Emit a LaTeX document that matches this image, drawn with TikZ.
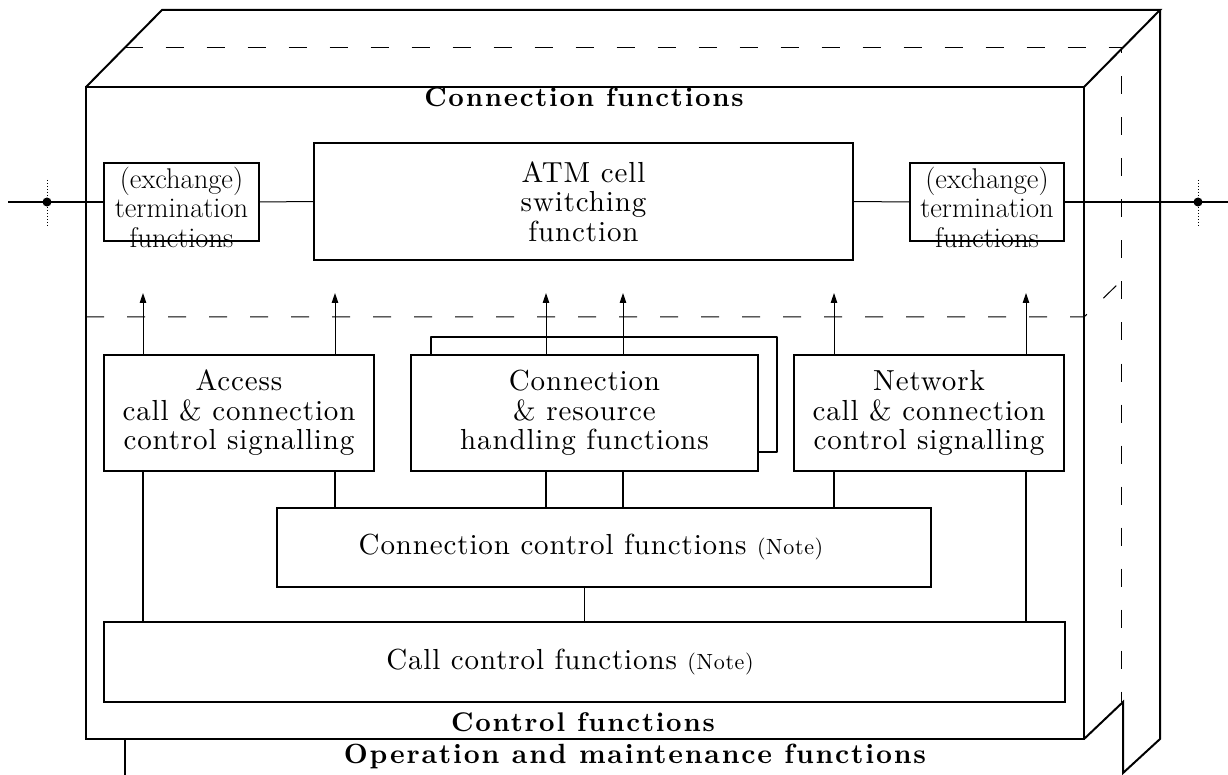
\documentclass[tikz,border=0pt]{standalone}
\usepackage{fontspec}
\usetikzlibrary{arrows.meta}
\newfontfamily\dgspaced{lmroman10-regular}[Extension=.otf, LetterSpace=3]
\newfontfamily\dgheadfam{lmroman10-bold}[Extension=.otf, LetterSpace=6.5]
\newcommand\dgbody{\dgspaced\fontsize{29}{29.5}\selectfont}
\newcommand\dgterm{\fontsize{28.5}{29.5}\selectfont}
\newcommand\dgnote{\fontsize{22}{24}\selectfont}
\newcommand\dghead{\dgheadfam\fontsize{27}{30}\selectfont}
\tikzset{
  frame/.style={line width=2pt, line join=miter},
  hidden/.style={line width=1pt, dash pattern=on 18pt off 23pt},
  box/.style={draw, line width=1.1pt, inner sep=0pt, align=center, font=\dgbody},
  txt/.style={inner sep=0pt, align=center, font=\dgbody},
  termtxt/.style={inner sep=0pt, align=center, font=\dgterm},
  head/.style={inner sep=0pt, anchor=base, font=\dghead},
  sig/.style={line width=1pt, -{Triangle[length=10pt,width=6.5pt]}},
  link/.style={line width=1.8pt},
  wire/.style={line width=1pt},
  ext/.style={line width=2pt},
  dot/.style={circle, fill, inner sep=0pt, minimum size=9pt},
  tap/.style={line width=1pt, dotted},
}
\begin{document}
\begin{tikzpicture}[x=1pt, y=-1pt]
\useasboundingbox (0,0) rectangle (1228,775);

% outer slab: front face, top face, right face
\draw[frame] (86,87) rectangle (1084,739);
\draw[frame] (86,87) -- (162,10) -- (1160,10) -- (1084,87);
\draw[frame] (1160,10) -- (1160,739) -- (1123,773) -- (1123,702) -- (1084,739);
\draw[frame] (125,740) -- (125,775);

% hidden edges between the layers
\draw[hidden] (124.5,48) -- (1121,48) -- (1121,702);
\draw[hidden] (86,317) -- (1084,317) -- (1121,281);

% layer titles
\node[head] (hconn) at (584,107) {Connection functions};
\node[head] (hctrl) at (583,731) {Control functions};
\node[head, font=\dgheadfam\fontsize{27.8}{30}\selectfont] (hom) at (635,763)
  {Operation and maintenance functions};

% connection functions
\node[box, minimum width=539pt, minimum height=117pt] (atm) at (583.5,201.5)
  {ATM cell\\switching\\function};
\node[draw, line width=1.1pt, inner sep=0pt, minimum width=155pt, minimum height=78pt] (termL) at (181.5,202) {};
\node[draw, line width=1.1pt, inner sep=0pt, minimum width=154pt, minimum height=78pt] (termR) at (987,202) {};
\node[termtxt] (termLt) at (181.5,207) {(exchange)\\termination\\functions};
\node[termtxt] (termRt) at (987,207) {(exchange)\\termination\\functions};

\draw[wire] (termL.east) -- (atm.west);
\draw[wire] (atm.east) -- (termR.west);

% external access points
\coordinate (extL) at (8,202);
\coordinate (extR) at (1228,202);
\node[dot] (dL) at (47,202) {};
\node[dot] (dR) at (1198,202) {};
\coordinate (dLt) at (47,180); \coordinate (dLb) at (47,226);
\coordinate (dRt) at (1198,180); \coordinate (dRb) at (1198,226);
\draw[tap] (dLt) -- (dLb);
\draw[tap] (dRt) -- (dRb);
\draw[ext] (extL) -- (termL.west);
\draw[ext] (termR.east) -- (extR);

% control functions
\node[box, minimum width=270pt, minimum height=116pt] (acc) at (239,413)
  {Access\\call \& connection\\control signalling};
\node[box, minimum width=347pt, minimum height=116pt] (cr) at (584.5,413)
  {Connection\\\& resource\\handling functions};
\node[box, minimum width=270pt, minimum height=116pt] (net) at (929,413)
  {Network\\call \& connection\\control signalling};
\node[box, minimum width=654pt, minimum height=79pt] (ccf) at (604,547.5) {};
\node[txt] (ccft) at (591,547) {Connection control functions {\dgnote(Note)}};
\node[box, minimum width=961pt, minimum height=80pt] (call) at (584.5,662) {};
\node[txt] (callt) at (570,662) {Call control functions {\dgnote(Note)}};

% loop-back of the resource handling block
\coordinate (bkA) at (431,337);
\coordinate (bkB) at (777,452);
\draw[link, line join=round] (bkA |- cr.north) -- (bkA) -| (bkB) -- (bkB -| cr.east);

% signalling paths up to the connection functions
\coordinate (a1) at (143,293);
\coordinate (a2) at (335,293);
\coordinate (a3) at (546,293);
\coordinate (a4) at (623,293);
\coordinate (a5) at (834,293);
\coordinate (a6) at (1026,293);
\draw[sig] (a1 |- acc.north) -- (a1);
\draw[sig] (a2 |- acc.north) -- (a2);
\draw[sig] (a3 |- cr.north) -- (a3);
\draw[sig] (a4 |- cr.north) -- (a4);
\draw[sig] (a5 |- net.north) -- (a5);
\draw[sig] (a6 |- net.north) -- (a6);

% links between the control blocks
\draw[link] (a1 |- acc.south) -- (a1 |- call.north);
\draw[link] (a2 |- acc.south) -- (a2 |- ccf.north);
\draw[link] (a3 |- cr.south) -- (a3 |- ccf.north);
\draw[link] (a4 |- cr.south) -- (a4 |- ccf.north);
\draw[link] (a5 |- net.south) -- (a5 |- ccf.north);
\draw[link] (a6 |- net.south) -- (a6 |- call.north);
\draw[link] (call.north |- ccf.south) -- (call.north);
\end{tikzpicture}
\end{document}
